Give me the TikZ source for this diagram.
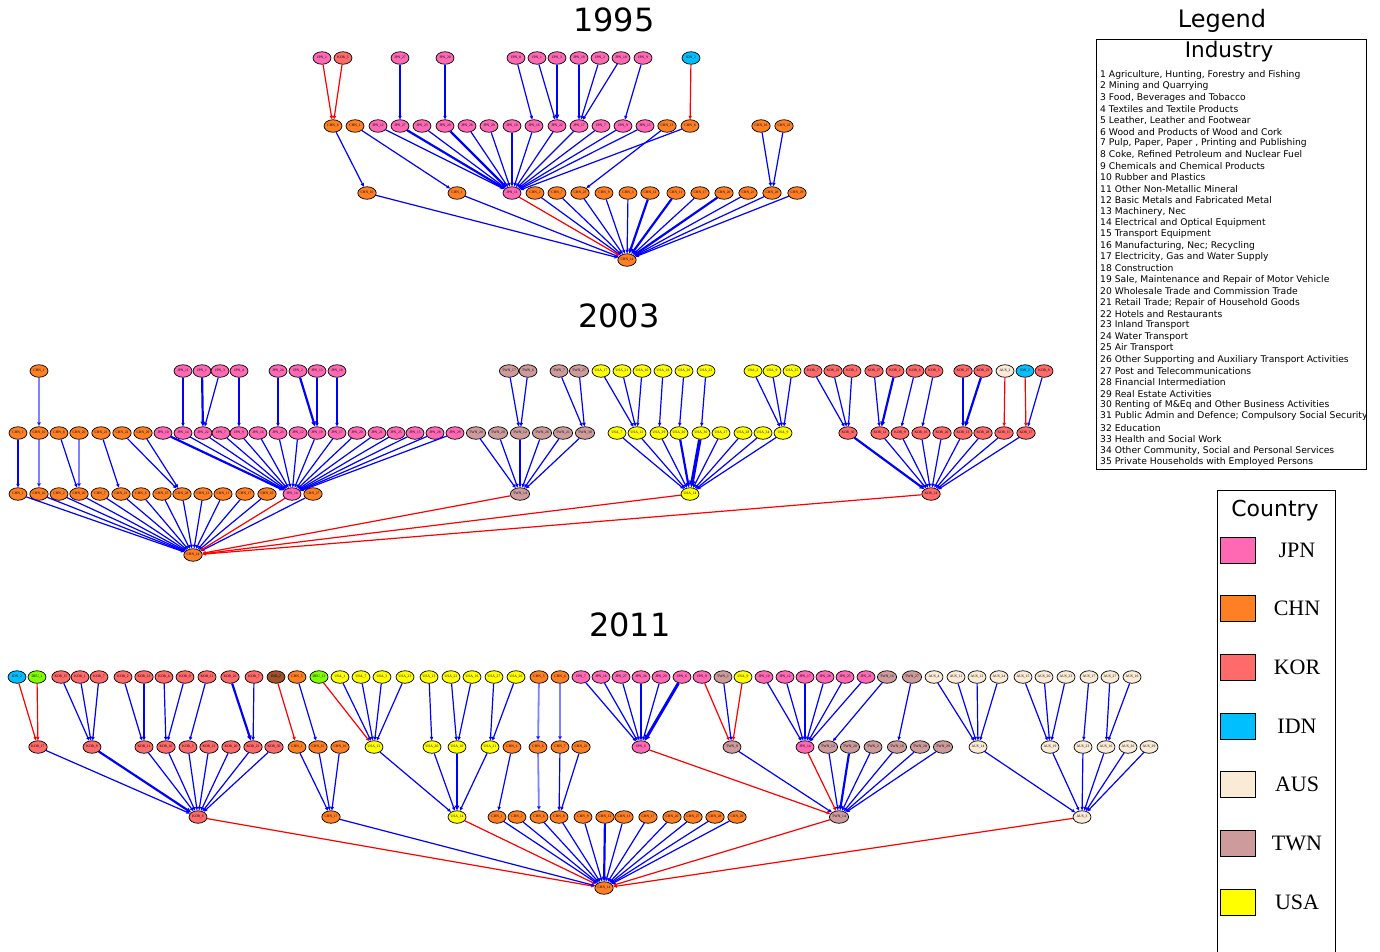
\documentclass[tikz,border=0pt]{standalone}
\usepackage{fontspec}
\setmainfont{Liberation Serif}
\newfontfamily\dejavu{DejaVu Sans}
\usetikzlibrary{shapes.geometric,arrows.meta}
\definecolor{cJPN}{HTML}{FF69B4}
\definecolor{cCHN}{HTML}{FF7F24}
\definecolor{cKOR}{HTML}{FF6A6A}
\definecolor{cIDN}{HTML}{00BFFF}
\definecolor{cAUS}{HTML}{FAEBD7}
\definecolor{cTWN}{HTML}{CD9B9B}
\definecolor{cUSA}{HTML}{FFFF00}
\definecolor{cGRN}{HTML}{7FFF00}
\definecolor{cBRN}{HTML}{A0522D}
\definecolor{cB}{HTML}{0000FF}
\definecolor{cR}{HTML}{FF0000}
\newcommand\rowc[4]{\foreach \n/\x/\k in {#4} \node[#1] (\n) at (\x,#2) {#3\_\k};}
\newcommand\edgs[3]{\foreach \s in {#2} \draw[#1] (\s) -- (#3);}
\begin{document}
\begin{tikzpicture}[x=1pt,y=-1pt,
  nd/.style={ellipse, draw=black, line width=0.7pt, minimum width=18pt, minimum height=12.5pt, inner sep=0pt, font=\fontsize{3.6}{4}\selectfont},
  jpn/.style={nd, fill=cJPN}, chn/.style={nd, fill=cCHN}, kor/.style={nd, fill=cKOR},
  idn/.style={nd, fill=cIDN}, aus/.style={nd, fill=cAUS}, twn/.style={nd, fill=cTWN},
  usa/.style={nd, fill=cUSA}, grn/.style={nd, fill=cGRN}, brn/.style={nd, fill=cBRN},
  eb/.style={draw=cB, line width=1.2pt, -{Triangle[length=2pt 1.3, width=1.6pt 1.3]}},
  ebt/.style={eb, line width=2.2pt},
  ebl/.style={eb, line width=1.8pt, draw opacity=0.5},
  er/.style={draw=cR, line width=1.2pt, -{Triangle[length=2pt 1.3, width=1.6pt 1.3]}},
  ttl/.style={font=\dejavu\fontsize{32}{36}\selectfont},
  legi/.style={anchor=west, inner sep=0pt, font=\dejavu\fontsize{9.2}{10}\selectfont},
  swatch/.style={draw=black, line width=0.7pt, minimum width=35pt, minimum height=26pt, inner sep=0pt},
  clab/.style={font=\fontsize{22}{24}\selectfont}
]
\useasboundingbox (0,0) rectangle (1380,952);

% ---------------- titles
\node[ttl] (t95) at (614,20) {1995};
\node[ttl] (t03) at (619,316) {2003};
\node[ttl] (t11) at (630,625) {2011};

% ================= 1995
\rowc{jpn}{58}{JPN}{at1/322/1, at3/400/27, at4/445/20, at5/516/8, at6/537/1, at7/557/3, at8/579/19, at9/600/2, at10/621/18, at11/643/9}
\rowc{kor}{58}{KOR}{at2/343/5}
\rowc{idn}{58}{IDN}{at12/691/2}
\rowc{chn}{126}{CHN}{am1/333/6, am2/355/1, am16/667/13, am17/690/8, am18/761/16, am19/784/22}
\rowc{jpn}{126}{JPN}{am3/378/12, am4/400/27, am5/422/23, am6/445/20, am7/467/28, am8/489/29, am9/512/10, am10/534/16, am11/557/22, am12/579/17, am13/601/7, am14/623/9, am15/645/15}
\rowc{chn}{193}{CHN}{al1/367/10, al2/457/1, al4/535/2, al5/557/7, al6/580/23, al7/604/9, al8/628/3, al9/650/12, al10/676/11, al11/700/17, al12/724/20, al13/748/21, al14/772/28, al15/797/29}
\rowc{jpn}{193}{JPN}{al3/512/11}
\node[chn] (ar) at (627,260) {CHN\_14};

\foreach \s/\t in {at1/am1, at2/am1, at12/am17} \draw[er] (\s) -- (\t);
\foreach \s/\t in {at3/am4, at4/am6, at5/am10, at6/am11, at8/am12, at9/am12, at10/am12, at11/am14, am1/al1, am2/al2, am16/al6, am18/al14, am19/al14} \draw[eb] (\s) -- (\t);
\draw[ebt] (at7) -- (am11);
\edgs{eb}{am3,am5,am7,am8,am9,am10,am11,am12,am13,am14,am15,am17}{al3}
\edgs{ebt}{am4,am6}{al3}
\edgs{eb}{al1,al2,al4,al5,al6,al7,al8,al11,al13,al14,al15}{ar}
\edgs{ebt}{al9,al10,al12}{ar}
\draw[er] (al3) -- (ar);

% ================= 2003
\rowc{chn}{371}{CHN}{bt1/39/1}
\rowc{jpn}{371}{JPN}{bt2/183/11, bt3/202/1, bt4/220/3, bt5/239/4, bt6/278/24, bt7/298/2, bt8/317/13, bt9/337/18}
\rowc{twn}{371}{TWN}{bt10/509/17, bt11/528/6, bt12/559/7, bt13/579/27}
\rowc{usa}{371}{USA}{bt14/601/17, bt15/622/21, bt16/642/10, bt17/663/18, bt18/684/26, bt19/706/22, bt20/753/2, bt21/772/9, bt22/792/25}
\rowc{kor}{371}{KOR}{bt23/813/7, bt24/833/22, bt25/852/1, bt26/874/27, bt27/895/2, bt28/915/6, bt29/934/3, bt30/963/27, bt31/983/23, bt34/1044/9}
\rowc{aus}{371}{AUS}{bt32/1005/2}
\rowc{idn}{371}{IDN}{bt33/1025/2}

\rowc{chn}{433}{CHN}{bm1/18/1, bm2/39/10, bm3/59/8, bm4/79/20, bm5/101/21, bm6/122/22, bm7/143/29}
\rowc{jpn}{433}{JPN}{bm8/163/10, bm9/183/14, bm10/203/22, bm11/221/7, bm12/239/9, bm13/258/16, bm14/278/23, bm15/298/12, bm16/317/19, bm17/337/17, bm18/357/20, bm19/377/21, bm20/396/25, bm21/415/15, bm22/435/28, bm23/455/29}
\rowc{twn}{433}{TWN}{bm24/476/28, bm25/498/20, bm26/520/12, bm27/542/26, bm28/563/21, bm29/585/30}
\rowc{usa}{433}{USA}{bm30/617/7, bm31/637/12, bm32/659/29, bm33/679/20, bm34/701/30, bm35/721/27, bm36/743/28, bm37/763/34, bm38/783/9}
\rowc{kor}{433}{KOR}{bm39/848/30, bm40/880/12, bm41/900/9, bm42/921/16, bm43/942/20, bm44/963/13, bm45/983/28, bm46/1004/15, bm47/1026/17}

\rowc{chn}{494}{CHN}{bl1/18/1, bl2/39/10, bl3/59/2, bl4/79/20, bl5/100/7, bl6/121/21, bl7/141/6, bl8/162/15, bl9/182/28, bl10/203/12, bl11/223/11, bl12/245/17, bl13/267/16, bl15/313/27}
\rowc{jpn}{494}{JPN}{bl14/292/14}
\rowc{twn}{494}{TWN}{bl16/520/14}
\rowc{usa}{494}{USA}{bl17/690/14}
\rowc{kor}{494}{KOR}{bl18/931/14}
\node[chn] (br) at (193,555) {CHN\_14};

\foreach \s/\t in {bt2/bm9, bt4/bm10, bt5/bm12, bt6/bm14, bt8/bm16, bt9/bm17, bt10/bm26, bt11/bm26, bt12/bm29, bt13/bm29, bt14/bm31, bt15/bm31, bt16/bm31, bt17/bm32, bt18/bm33, bt19/bm34, bt20/bm38, bt21/bm38, bt22/bm38, bt23/bm39, bt24/bm39, bt25/bm39, bt26/bm40, bt28/bm41, bt29/bm42, bt30/bm44, bt34/bm47} \draw[eb] (\s) -- (\t);
\foreach \s/\t in {bt3/bm10, bt7/bm16, bt27/bm40, bt31/bm44} \draw[ebt] (\s) -- (\t);
\draw[ebl] (bt1) -- (bm2);
\draw[er] (bt32) -- (bm46);
\draw[er] (bt33) -- (bm47);
\foreach \s/\t in {bm1/bl1, bm3/bl4, bm5/bl6, bm6/bl9, bm7/bl9} \draw[eb] (\s) -- (\t);
\draw[ebl] (bm2) -- (bl2);
\draw[ebl] (bm4) -- (bl4);
\edgs{eb}{bm9,bm10,bm11,bm12,bm13,bm14,bm15,bm16,bm17,bm18,bm19,bm20,bm21,bm22,bm23}{bl14}
\draw[ebt] (bm8) -- (bl14);
\edgs{eb}{bm24,bm25,bm26,bm27,bm28,bm29}{bl16}
\edgs{eb}{bm30,bm31,bm32,bm35,bm36,bm37,bm38}{bl17}
\draw[ebt] (bm33) -- (bl17);
\draw[eb, line width=3.5pt] (bm34) -- (bl17);
\edgs{eb}{bm40,bm41,bm42,bm43,bm44,bm45,bm46,bm47}{bl18}
\draw[ebt] (bm39) -- (bl18);
\edgs{eb}{bl1,bl2,bl3,bl4,bl5,bl6,bl7,bl8,bl9,bl10,bl11,bl12,bl13,bl15}{br}
\edgs{er}{bl14,bl16,bl17,bl18}{br}

% ================= 2011
\rowc{idn}{677}{IDN}{ct1/17/2}
\rowc{grn}{677}{DEU}{ct2/37/1, ct15/319/12}
\rowc{kor}{677}{KOR}{ct3/61/15, ct4/80/1, ct5/99/7, ct6/123/2, ct7/144/13, ct8/164/4, ct9/185/9, ct10/207/11, ct11/230/26, ct12/254/7}
\rowc{brn}{677}{IND}{ct13/276/2}
\rowc{chn}{677}{CHN}{ct14/297/5, ct25/539/5, ct26/560/4}
\rowc{usa}{677}{USA}{ct16/340/1, ct17/361/7, ct18/382/3, ct19/405/23, ct20/429/13, ct21/451/22, ct22/472/16, ct23/494/27, ct24/516/26, ct35/743/9}
\rowc{jpn}{677}{JPN}{ct27/581/7, ct28/601/16, ct29/621/27, ct30/641/26, ct31/661/29, ct32/682/6, ct33/702/9, ct36/764/10, ct37/785/12, ct38/805/17, ct39/825/28, ct40/845/25, ct41/866/21}
\rowc{twn}{677}{TWN}{ct34/723/1, ct42/887/16, ct43/912/27}
\rowc{aus}{677}{AUS}{ct44/934/4, ct45/956/11, ct46/977/12, ct47/999/24, ct48/1023/15, ct49/1044/20, ct50/1066/23, ct51/1089/17, ct52/1110/27, ct53/1132/16}

\rowc{kor}{747}{KOR}{cm1/38/17, cm2/92/9, cm3/144/11, cm4/166/10, cm5/188/3, cm6/209/12, cm7/231/20, cm8/253/21, cm9/274/30}
\rowc{chn}{747}{CHN}{cm10/297/1, cm11/318/15, cm12/340/16, cm17/512/1, cm18/538/6, cm19/560/7, cm20/581/22}
\rowc{usa}{747}{USA}{cm13/374/12, cm14/432/20, cm15/457/10, cm16/490/21}
\rowc{jpn}{747}{JPN}{cm21/641/6, cm23/805/14}
\rowc{twn}{747}{TWN}{cm22/732/9, cm24/828/12, cm25/850/20, cm26/873/2, cm27/897/16, cm28/920/28, cm29/943/29}
\rowc{aus}{747}{AUS}{cm30/978/14, cm31/1050/19, cm32/1083/23, cm33/1106/16, cm34/1128/26, cm35/1149/29}

\rowc{kor}{817}{KOR}{cl1/198/8}
\rowc{chn}{817}{CHN}{cl2/331/17, cl4/497/1, cl5/517/2, cl6/539/6, cl7/559/8, cl8/583/9, cl9/605/12, cl10/624/13, cl11/648/17, cl12/672/20, cl13/693/27, cl14/715/28, cl15/737/29}
\rowc{usa}{817}{USA}{cl3/457/14}
\rowc{twn}{817}{TWN}{cl16/839/14}
\rowc{aus}{817}{AUS}{cl17/1082/3}
\node[chn] (cr) at (604,888) {CHN\_14};

\foreach \s/\t in {ct1/cm1, ct2/cm1, ct13/cm10, ct15/cm13, ct33/cm22, ct35/cm22} \draw[er] (\s) -- (\t);
\foreach \s/\t in {ct3/cm2, ct4/cm2, ct5/cm2, ct6/cm3, ct7/cm3, ct8/cm4, ct9/cm4, ct10/cm5, ct12/cm8, ct14/cm11, ct16/cm13, ct17/cm13, ct18/cm13, ct19/cm13, ct20/cm14, ct21/cm15, ct22/cm15, ct23/cm16, ct24/cm16, ct34/cm22, ct42/cm24, ct43/cm27, ct44/cm30, ct45/cm30, ct46/cm30, ct47/cm30, ct48/cm31, ct49/cm31, ct50/cm31, ct51/cm32, ct52/cm33, ct53/cm33} \draw[eb] (\s) -- (\t);
\draw[ebt] (ct11) -- (cm8);
\draw[ebl] (ct25) -- (cm18);
\draw[ebl] (ct26) -- (cm19);
\edgs{eb}{ct27,ct28,ct29,ct30,ct31}{cm21}
\draw[eb, line width=3pt] (ct32) -- (cm21);
\edgs{eb}{ct36,ct37,ct38,ct39,ct40,ct41}{cm23}

\edgs{eb}{cm1,cm3,cm4,cm5,cm6,cm7,cm8,cm9}{cl1}
\draw[ebt] (cm2) -- (cl1);
\edgs{eb}{cm10,cm11,cm12}{cl2}
\edgs{eb}{cm13,cm14,cm16}{cl3}
\draw[ebt] (cm15) -- (cl3);
\foreach \s/\t in {cm17/cl4, cm19/cl7, cm20/cl7} \draw[eb] (\s) -- (\t);
\draw[ebl] (cm18) -- (cl6);
\edgs{er}{cm21,cm23}{cl16}
\edgs{eb}{cm22,cm24,cm26,cm27,cm28,cm29}{cl16}
\draw[ebt] (cm25) -- (cl16);
\edgs{eb}{cm30,cm31,cm32,cm33,cm34,cm35}{cl17}

\edgs{er}{cl1,cl3,cl16,cl17}{cr}
\edgs{eb}{cl2,cl4,cl5,cl6,cl7,cl8,cl10,cl11,cl12,cl13,cl14,cl15}{cr}
\draw[ebt] (cl9) -- (cr);

% ================= legend
\node[font=\dejavu\fontsize{24}{28}\selectfont] (lgt) at (1222,21) {Legend};
\node[draw=black, line width=0.8pt, minimum width=270pt, minimum height=430pt, inner sep=0pt, anchor=north west] (indbox) at (1096,39) {};
\node[font=\dejavu\fontsize{21.5}{24}\selectfont] (indt) at (1229,52) {Industry};
\foreach \i/\t in {1/{Agriculture, Hunting, Forestry and Fishing}, 2/{Mining and Quarrying}, 3/{Food, Beverages and Tobacco}, 4/{Textiles and Textile Products}, 5/{Leather, Leather and Footwear}, 6/{Wood and Products of Wood and Cork}, 7/{Pulp, Paper, Paper , Printing and Publishing}, 8/{Coke, Refined Petroleum and Nuclear Fuel}, 9/{Chemicals and Chemical Products}, 10/{Rubber and Plastics}, 11/{Other Non-Metallic Mineral}, 12/{Basic Metals and Fabricated Metal}, 13/{Machinery, Nec}, 14/{Electrical and Optical Equipment}, 15/{Transport Equipment}, 16/{Manufacturing, Nec; Recycling}, 17/{Electricity, Gas and Water Supply}, 18/{Construction}, 19/{Sale, Maintenance and Repair of Motor Vehicle}, 20/{Wholesale Trade and Commission Trade}, 21/{Retail Trade; Repair of Household Goods}, 22/{Hotels and Restaurants}, 23/{Inland Transport}, 24/{Water Transport}, 25/{Air Transport}, 26/{Other Supporting and Auxiliary Transport Activities}, 27/{Post and Telecommunications}, 28/{Financial Intermediation}, 29/{Real Estate Activities}, 30/{Renting of M\&Eq and Other Business Activities}, 31/{Public Admin and Defence; Compulsory Social Security}, 32/{Education}, 33/{Health and Social Work}, 34/{Other Community, Social and Personal Services}, 35/{Private Households with Employed Persons}}
  \node[legi] (li\i) at (1100,{75+(\i-1)*11.38}) {\i\ \t};

\node[draw=black, line width=0.8pt, minimum width=118pt, minimum height=462pt, inner sep=0pt, anchor=north west] (cbox) at (1217,490) {};
\node[font=\dejavu\fontsize{22}{24}\selectfont] (ctt) at (1275,511) {Country};
\foreach \i/\c/\l in {0/cJPN/JPN, 1/cCHN/CHN, 2/cKOR/KOR, 3/cIDN/IDN, 4/cAUS/AUS, 5/cTWN/TWN, 6/cUSA/USA} {
  \node[swatch, fill=\c] (sw\i) at (1238,{550+\i*58.67}) {};
  \node[clab] (cl\l) at (1297,{550+\i*58.67}) {\l};
}
\end{tikzpicture}
\end{document}
